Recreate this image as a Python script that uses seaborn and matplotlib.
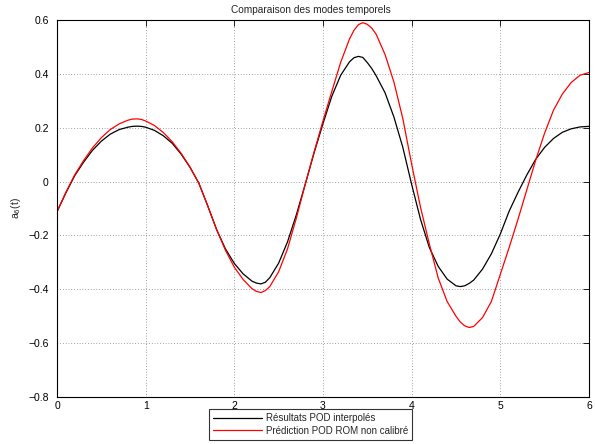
import numpy as np
import pandas as pd
import seaborn as sns
import matplotlib.pyplot as plt

# time samples (0.1 steps, with extra samples around the extrema)
t = [
    0.0, 0.1, 0.2, 0.3, 0.4, 0.5, 0.6, 0.7, 0.8, 0.85, 0.9, 0.95,
    1.0, 1.1, 1.2, 1.3, 1.4, 1.5, 1.6, 1.7, 1.8, 1.9,
    2.0, 2.1, 2.2, 2.25, 2.3, 2.35, 2.4, 2.5, 2.6, 2.7, 2.8, 2.9,
    3.0, 3.1, 3.2, 3.3, 3.35, 3.4, 3.45, 3.5, 3.55, 3.6, 3.7, 3.8, 3.9,
    4.0, 4.1, 4.2, 4.3, 4.4, 4.5, 4.55, 4.6, 4.65, 4.7, 4.8, 4.9,
    5.0, 5.1, 5.2, 5.3, 5.4, 5.5, 5.6, 5.7, 5.8, 5.9, 6.0,
]

pod_interp = [
    -0.112, -0.042, 0.022, 0.072, 0.116, 0.150, 0.176, 0.193, 0.202, 0.205, 0.206, 0.205,
    0.202, 0.190, 0.170, 0.142, 0.102, 0.053, -0.006, -0.090, -0.178, -0.250,
    -0.304, -0.343, -0.370, -0.377, -0.380, -0.374, -0.357, -0.303, -0.224, -0.123, -0.010, 0.107,
    0.215, 0.317, 0.395, 0.445, 0.460, 0.465, 0.461, 0.442, 0.420, 0.393, 0.330, 0.240, 0.128,
    -0.010, -0.140, -0.245, -0.315, -0.362, -0.387, -0.390, -0.387, -0.378, -0.366, -0.325, -0.268,
    -0.195, -0.110, -0.040, 0.025, 0.083, 0.127, 0.160, 0.183, 0.196, 0.203, 0.205,
]

rom_pred = [
    -0.112, -0.040, 0.025, 0.078, 0.125, 0.163, 0.193, 0.214, 0.228, 0.232, 0.233, 0.231,
    0.225, 0.208, 0.182, 0.148, 0.105, 0.054, -0.006, -0.090, -0.178, -0.255,
    -0.318, -0.364, -0.398, -0.408, -0.412, -0.405, -0.390, -0.335, -0.250, -0.135, -0.010, 0.110,
    0.225, 0.335, 0.443, 0.530, 0.562, 0.583, 0.590, 0.584, 0.570, 0.547, 0.472, 0.370, 0.235,
    0.065, -0.095, -0.232, -0.358, -0.445, -0.500, -0.522, -0.536, -0.542, -0.538, -0.505, -0.445,
    -0.345, -0.245, -0.140, -0.030, 0.080, 0.180, 0.265, 0.325, 0.368, 0.395, 0.405,
]

labels = ["Résultats POD interpolés", "Prédiction POD ROM non calibré"]
colors = ["black", "red"]

x_ticks = [0, 1, 2, 3, 4, 5, 6]
y_ticks = [-0.8, -0.6, -0.4, -0.2, 0, 0.2, 0.4, 0.6]
y_ticklabels = ["−0.8", "−0.6", "−0.4", "−0.2", "0", "0.2", "0.4", "0.6"]

df = pd.DataFrame({
    "t": t + t,
    "a6": pod_interp + rom_pred,
    "serie": [labels[0]] * len(t) + [labels[1]] * len(t),
})

sns.set_style("white")
plt.rcParams["font.family"] = ["Liberation Sans", "DejaVu Sans"]
plt.rcParams["font.size"] = 7.3

fig = plt.figure(figsize=(5.95, 4.44), dpi=100)
ax = fig.add_axes([0.0958, 0.1059, 0.894, 0.849])

sns.lineplot(data=df, x="t", y="a6", hue="serie", palette=colors,
             linewidth=0.9, legend=False, ax=ax)

ax.set_xlim(0, 6)
ax.set_ylim(-0.8, 0.6)
ax.set_xticks(x_ticks)
ax.set_xticklabels([str(v) for v in x_ticks])
ax.set_yticks(y_ticks)
ax.set_yticklabels(y_ticklabels)
ax.tick_params(direction="in", top=True, right=True, length=4, width=0.6,
               labelsize=7.5, colors="black")
ax.tick_params(axis="x", pad=3)
ax.tick_params(axis="y", pad=6)
ax.grid(True, color="black", linestyle=(0, (1, 3)), linewidth=0.5, alpha=0.7)
for sp in ax.spines.values():
    sp.set_color("black")
    sp.set_linewidth(0.8)

ax.set_xlabel("")
ax.set_ylabel("a$_6$(t)", fontsize=7.5, labelpad=4)
ax.set_title("Comparaison des modes temporels", fontsize=7.3, pad=5, x=0.477)

handles = ax.get_lines()[:2]
leg = fig.legend(handles, labels, loc="center", bbox_to_anchor=(0.522, 0.044),
                 fontsize=7, frameon=True, fancybox=False, handlelength=5.0,
                 borderpad=0.4, labelspacing=0.25, handletextpad=0.4,
                 borderaxespad=0)
leg.get_frame().set_edgecolor("black")
leg.get_frame().set_linewidth(0.8)

fig.savefig("out.png", dpi=100, facecolor="white")
